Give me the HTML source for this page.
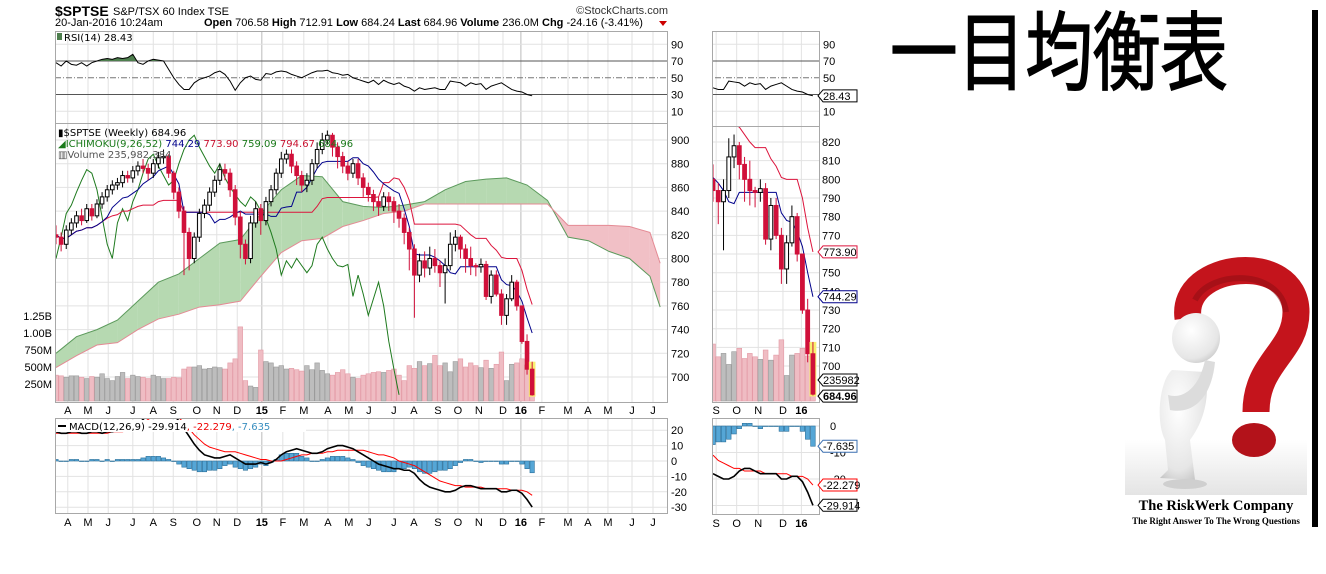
<!DOCTYPE html>
<html><head><meta charset="utf-8">
<style>
html,body{margin:0;padding:0;background:#fff;}
svg{display:block;}
text{font-family:"Liberation Sans","Noto Sans CJK JP",sans-serif;}
.lg{font-family:"DejaVu Sans",sans-serif;font-size:10px;}
.ax{font-size:11px;fill:#000;}
</style></head>
<body>
<svg id="chart" width="1326" height="574" viewBox="0 0 1326 574" xmlns="http://www.w3.org/2000/svg">
<defs>
<clipPath id="cRsiL"><rect x="55" y="31" width="612" height="92"/></clipPath>
<clipPath id="cPriceL"><rect x="55" y="124" width="612" height="278"/></clipPath>
<clipPath id="cMacdL"><rect x="55" y="418" width="612" height="95"/></clipPath>
<clipPath id="cRsiR"><rect x="712" y="31" width="107" height="95"/></clipPath>
<clipPath id="cPriceR"><rect x="712" y="126" width="107" height="276"/></clipPath>
<clipPath id="cMacdR"><rect x="712" y="418" width="107" height="96"/></clipPath>
<clipPath id="cAbove70"><rect x="0" y="0" width="1326" height="61"/></clipPath>
<linearGradient id="floor" x1="0" y1="0" x2="0" y2="1"><stop offset="0" stop-color="#fff"/><stop offset="1" stop-color="#e4e4e4"/></linearGradient>
<radialGradient id="body" cx="0.4" cy="0.35" r="0.8"><stop offset="0" stop-color="#ffffff"/><stop offset="0.7" stop-color="#e6e6e6"/><stop offset="1" stop-color="#b8b8b8"/></radialGradient>
</defs>
<rect x="0" y="0" width="1326" height="574" fill="#fff"/>

<g>
<text x="55" y="16" style="font-size:14px;font-weight:bold">$SPTSE</text>
<text x="113" y="15" style="font-size:11px">S&amp;P/TSX 60 Index  TSE</text>
<text x="668" y="14" text-anchor="end" style="font-size:11px;fill:#333">©StockCharts.com</text>
<text x="55" y="26" style="font-size:11px">20-Jan-2016 10:24am</text>
<text x="204" y="26" style="font-size:11px"><tspan font-weight="bold">Open</tspan> 706.58 <tspan font-weight="bold">High</tspan> 712.91 <tspan font-weight="bold">Low</tspan> 684.24 <tspan font-weight="bold">Last</tspan> 684.96 <tspan font-weight="bold">Volume</tspan> 236.0M <tspan font-weight="bold">Chg</tspan> -24.16 (-3.41%)</text>
<polygon points="659,21 667,21 663,26" fill="#c00"/>
</g>

<g id="gridL"></g>
<g id="gridR"></g>
<g id="rsiL" clip-path="url(#cRsiL)"></g>
<g id="priceL" clip-path="url(#cPriceL)"></g>
<g id="macdL" clip-path="url(#cMacdL)"></g>
<g id="rsiR" clip-path="url(#cRsiR)"></g>
<g id="priceR" clip-path="url(#cPriceR)"></g>
<g id="macdR" clip-path="url(#cMacdR)"></g>

<g fill="none" stroke="#a8a8a8" stroke-width="1">
<rect x="55.5" y="31.5" width="612" height="92"/>
<rect x="55.5" y="123.5" width="612" height="279"/>
<rect x="55.5" y="418.5" width="612" height="95"/>
<rect x="712.5" y="31.5" width="107" height="95"/>
<rect x="712.5" y="126.5" width="107" height="276"/>
<rect x="712.5" y="418.5" width="107" height="96"/>
</g>

<g class="lg">
<rect x="57" y="33" width="5" height="7" fill="#4e7f4e"/>
<text class="lg" x="64" y="41">RSI(14) 28.43</text>
<text class="lg" x="58" y="136">▮$SPTSE (Weekly) 684.96</text>
<text class="lg" x="58" y="147"><tspan fill="#1a7a1a">◢ICHIMOKU(9,26,52)</tspan> <tspan fill="#00008b">744.29</tspan> <tspan fill="#c8102e">773.90</tspan> <tspan fill="#1a7a1a">759.09</tspan> <tspan fill="#c8102e">794.67</tspan> <tspan fill="#1a7a1a">684.96</tspan></text>
<text class="lg" x="58" y="158" fill="#555">▥Volume 235,982,384</text>
</g>
<g id="axes"></g>
<g>
<rect x="56" y="420" width="250" height="12" fill="#fff"/>
<line x1="58" y1="426" x2="66" y2="426" stroke="#000" stroke-width="2"/>
<text class="lg" x="69" y="430">MACD(12,26,9) -29.914<tspan fill="#e00">, -22.279</tspan><tspan fill="#3a8fc0">, -7.635</tspan></text>
</g>

<text x="890" y="64" textLength="338" lengthAdjust="spacingAndGlyphs" transform="scale(1,1.3)" style="font-family:'Noto Sans CJK JP',sans-serif;font-size:66px" stroke="#000" stroke-width="1">一目均衡表</text>
<rect x="1312" y="10" width="6" height="517" fill="#000"/>

<g>
<rect x="1125" y="258" width="182" height="282" fill="#fff"/>
<rect x="1125" y="440" width="182" height="55" fill="url(#floor)"/>
<path d="M1188,318 C1180,262 1296,250 1296,312 C1296,352 1256,362 1256,412" fill="none" stroke="#c4141c" stroke-width="27"/>
<path d="M1195,300 C1210,270 1280,268 1286,312" fill="none" stroke="#8a0c12" stroke-width="6" opacity="0.5"/>
<ellipse cx="1254" cy="440" rx="22" ry="17" fill="#b3121a"/>
<ellipse cx="1196" cy="338" rx="24" ry="25" fill="url(#body)"/>
<path d="M1172,370 C1160,380 1155,420 1165,440 L1168,470 L1160,478 L1195,480 L1190,440 C1205,420 1210,395 1205,372 Z" fill="url(#body)"/>
<path d="M1168,395 C1185,400 1200,385 1205,360 L1215,362 C1212,395 1195,415 1170,410 Z" fill="#dcdcdc"/>
<ellipse cx="1185" cy="484" rx="22" ry="5" fill="#cfcfcf"/>
<text x="1216" y="510" text-anchor="middle" style="font-family:'Liberation Serif',serif;font-size:14.5px;font-weight:bold">The RiskWerk Company</text>
<text x="1216" y="524" text-anchor="middle" style="font-family:'Liberation Serif',serif;font-size:9px;font-weight:bold">The Right Answer To The Wrong Questions</text>
</g>
</svg>

<script>
const closes=[818,812,824,830, 836,832,842,836, 846,852,858,862, 864,870,868,874,878, 876,872,880,885, 886,872,856,840, 822,800,818,838,845, 856,866,875,872, 858,835,812,800,830, 842,832,848,858, 872,884,888,878, 870,862,866,880, 892,900,904,894,886, 878,872,880,868, 860,854,848,844, 852,848,840,834,822, 808,786,798,792, 800,794,788,794, 812,818,808,800,794, 793,795,768,786, 770,752,766,780,760, 730,706.58,684.96];
const firstOpen=820;
const highs=[828,822,828,834,840,842,846,846,850,856, 862,866,868,874,874,878,882,884,880,884, 890,892,888,874,860,844,826,822,842,850, 860,870,880,880,876,862,840,816,836,848, 846,852,862,876,890,892,892,882,874,872, 884,898,906,908,906,898,890,882,884,884, 872,864,858,852,856,856,852,846,838,826, 812,804,806,810,808,798,800,822,824,820, 812,810,796,800,798,790,790,774,770,786, 782,760,736,712.91];
const lows=[812,806,808,820,826,828,830,832,834,842, 848,854,858,860,864,864,870,872,866,868, 876,880,868,850,834,786,790,796,814,834, 840,852,862,866,852,828,800,795,796,826, 820,828,844,854,868,880,872,862,856,856, 862,876,888,896,886,876,872,866,868,862, 852,848,840,836,840,840,830,826,812,790, 750,780,784,786,788,776,762,790,806,800, 788,786,785,788,765,762,768,744,744,764, 756,728,702,684.24];
const volumes=[380,370,350,370, 370,350,330,360, 350,400,330,300, 360,420,330,380,360, 350,330,380,360, 330,330,350,340, 470,500,500,520,470, 480,500,490,470, 560,620,1090,300,220, 200,750,580,560, 500,520,470,480, 460,440,520,460, 560,450,400,380,420, 460,400,350,330, 380,400,420,430, 420,450,470,380,300, 520,480,580,520, 550,670,520,560, 430,580,620,500,560, 520,490,600,480, 540,720,300,540,560, 620,530,236];
const rsi=[68,64,70,66, 65,68,64,68, 70,72,73,72, 74,73,74,78,68, 66,70,72,71, 70,60,50,42, 36,36,44,48,50, 52,56,58,54, 46,35,44,50,52, 48,47,55,54, 57,58,57,54, 52,50,53,56, 58,58,59,56,55, 53,54,50,48, 46,44,47,42, 47,44,42,44,40, 38,34,38,36, 37,38,36,36, 46,45,44,40,44, 42,43,36,40, 42,44,40,36,34, 33,30,28.43];
const macd=[19,18,18,19,19,18,18,19,19,18,19,19,20,20,21,21, 24,27,30,32,33,33,32,30,26, 21,16,11,7,4, 3,2,2,3,4, 2,0,-2,-2,-2, -1,-2,-1,1,4, 6,7,8,7,6, 5,5,6,8,9, 10,10,9,8,6, 4,2,0,-2,-3, -4,-5,-5,-6,-6, -8,-12,-15,-17,-18, -19,-20,-20,-19,-17, -16,-16,-17,-18,-18, -18,-18,-20,-20,-19, -19,-21,-25,-29.914];
const signal=[18,18,18,18,18,18,18,18,18,18,18,19,19,19,20,20, 23,25,27,29,30,31,31,30,28, 25,21,17,14,11, 9,8,7,6,6, 6,5,4,3,2, 1,1,0,0,0, 1,2,3,4,4, 5,5,5,6,6, 7,7,7,7,7, 7,6,5,4,4, 3,2,0,-1,-2, -3,-5,-7,-9,-11, -13,-14,-15,-16,-16, -17,-17,-17,-17,-18, -18,-18,-18,-18,-19, -19,-19,-20,-22.279];
const cloudWeeks=[0,4,8,12,16,20,24,28,32,36,40,44,48,52,56,60,64,68,72,76,80,84,88,92,96,100,104,108,112,116,118];
const spanA=[720,734,740,748,764,780,787,800,813,816,838,858,870,869,848,844,843,845,848,858,865,867,868,862,849,818,815,806,800,785,759];
const spanB=[708,718,727,729,740,749,753,759,761,764,785,805,815,817,827,832,838,840,846,846,846,846,846,846,846,828,828,828,827,822,796];
const monthLabels=['A','M','J','J','A','S','O','N','D','15','F','M','A','M','J','J','A','S','O','N','D','16','F','M','A','M','J','J'];
const monthWeeks=[2.3,6.25,10.2,15,19,22.9,27.5,31.4,35.4,40.2,44.3,48.4,53.1,57.2,61.1,66,69.9,74.6,78.5,82.6,87.3,90.8,94.9,100,103.9,107.8,112.5,116.6];
const rsiTicks=[90,70,50,30,10];
const priceTicksL=[900,880,860,840,820,800,780,760,740,720,700];
const volTickVals=[1250,1000,750,500,250];
const volTickLabels=['1.25B','1.00B','750M','500M','250M'];
const macdTicksL=[20,10,0,-10,-20,-30];
const priceTicksR=[820,810,800,790,780,770,760,750,740,730,720,710,700];
const macdTicksR=[0,-10,-20];
const zoomStart=74;

const xL=i=>56+i*5.12;
const yP=v=>140+(900-v)*1.185;
const yRsi=v=>61+(70-v)*0.8375;
const yM=v=>461-v*1.54;
const yVol=v=>401-v*0.068;
const xR=i=>713+(i-zoomStart)*5.26;
const yPR=v=>142+(820-v)*1.867;
const yMR=v=>426-v*2.65;

const NS='http://www.w3.org/2000/svg';
function mk(tag,attrs,parent){const e=document.createElementNS(NS,tag);for(const k in attrs)e.setAttribute(k,attrs[k]);parent.appendChild(e);return e;}
const G=id=>document.getElementById(id);
const N=closes.length;
const opens=closes.map((c,i)=>i===0?firstOpen:closes[i-1]);
function mid(i,n){let h=-1e9,l=1e9;for(let j=Math.max(0,i-n+1);j<=i;j++){h=Math.max(h,highs[j]);l=Math.min(l,lows[j]);}return (h+l)/2;}
const tenkan=closes.map((c,i)=>mid(i,9));
const kijun=closes.map((c,i)=>mid(i,26));
const hist=macd.map((m,i)=>m-signal[i]);

const gl=G('gridL');
monthWeeks.forEach((w,k)=>{
  const x=xL(w);
  [[31,123],[124,402],[418,513]].forEach(r=>{
    const ln=mk('line',{x1:x,x2:x,y1:r[0],y2:r[1],stroke:(monthLabels[k]==='15'||monthLabels[k]==='16')?'#bbb':'#e2e2e2','stroke-width':1},gl);
    
    
  });
});
function hgrid(par,vals,fy,x1,x2){vals.forEach(v=>{const ln=mk('line',{x1:x1,x2:x2,y1:fy(v),y2:fy(v),stroke:'#e2e2e2'},par);
  
  });}
hgrid(gl,[90,10],yRsi,55,667);
hgrid(gl,priceTicksL,yP,55,667);
hgrid(gl,macdTicksL,yM,55,667);
const gr=G('gridR');
monthWeeks.forEach(w=>{const x=xR(w);if(x<712||x>819)return;
  [[31,126],[126,402],[418,514]].forEach(r=>{const ln=mk('line',{x1:x,x2:x,y1:r[0],y2:r[1],stroke:'#e2e2e2'},gr);
  
  });});
hgrid(gr,[90,10],yRsi,712,819);
hgrid(gr,priceTicksR,yPR,712,819);
hgrid(gr,[0,-10,-20,-30],yMR,712,819);

function rsiPanel(par,fx,i0){
  [70,30].forEach(v=>{const l=mk('line',{x1:0,x2:1326,y1:yRsi(v),y2:yRsi(v),stroke:'#555'},par);
    
    });
  const l5=mk('line',{x1:0,x2:1326,y1:yRsi(50),y2:yRsi(50),stroke:'#777','stroke-dasharray':'6,2,1,2'},par);
  
  
  let pts=[];for(let i=i0;i<N;i++)pts.push(fx(i)+','+yRsi(rsi[i]));
  const area=mk('polygon',{points:fx(i0)+','+yRsi(70)+' '+pts.join(' ')+' '+fx(N-1)+','+yRsi(70),fill:'#4e7f4e','clip-path':'url(#cAbove70)'},par);
  
  
  const pl=mk('polyline',{points:pts.join(' '),fill:'none',stroke:'#000','stroke-width':1},par);
  
  
}
rsiPanel(G('rsiL'),xL,0);
rsiPanel(G('rsiR'),xR,zoomStart);

function pricePanel(par,fx,fy,i0,bw,vw,volScale,withCloud){
  for(let i=i0;i<N;i++){
    const up=closes[i]>=opens[i];
    const v=mk('rect',{x:fx(i)-vw/2,y:401-volumes[i]*volScale,width:vw,height:volumes[i]*volScale,fill:up?'#bdbdbd':'#efbcc3',stroke:up?'#9a9a9a':'#e39aa5','stroke-width':0.6},par);
    
    
  }
  if(withCloud){
    for(let k=0;k<cloudWeeks.length-1;k++){
      const xa=fx(cloudWeeks[k]),xb=fx(cloudWeeks[k+1]);
      const a1=spanA[k],a2=spanA[k+1],b1=spanB[k],b2=spanB[k+1];
      const d1=a1-b1,d2=a2-b2;
      const segs=[];
      if(d1*d2<0){const t=d1/(d1-d2);const xm=xa+(xb-xa)*t,vm=a1+(a2-a1)*t;
        segs.push([xa,a1,b1,xm,vm,vm,d1>0]);segs.push([xm,vm,vm,xb,a2,b2,d2>0]);}
      else segs.push([xa,a1,b1,xb,a2,b2,(d1+d2)>=0]);
      segs.forEach(s=>{const p=mk('polygon',{points:s[0]+','+fy(s[1])+' '+s[3]+','+fy(s[4])+' '+s[3]+','+fy(s[5])+' '+s[0]+','+fy(s[2]),fill:s[6]?'#b6d9b1':'#f1c0c6',stroke:'none'},par);
        
        });
    }
    const pa=mk('polyline',{points:cloudWeeks.map((w,k)=>fx(w)+','+fy(spanA[k])).join(' '),fill:'none',stroke:'#5c9a5c','stroke-width':1},par);
    
    
    const pb=mk('polyline',{points:cloudWeeks.map((w,k)=>fx(w)+','+fy(spanB[k])).join(' '),fill:'none',stroke:'#e48a94','stroke-width':1},par);
    
    
    let cp=[];for(let i=26;i<N;i++)cp.push(fx(i-26)+','+fy(closes[i]));
    const ch=mk('polyline',{points:cp.join(' '),fill:'none',stroke:'#1e7a1e','stroke-width':1},par);
    
    
  }
  let kp=[],tp=[];for(let i=i0;i<N;i++){kp.push(fx(i)+','+fy(kijun[i]));tp.push(fx(i)+','+fy(tenkan[i]));}
  const kl=mk('polyline',{points:kp.join(' '),fill:'none',stroke:'#dc143c','stroke-width':1},par);
  
  
  const tl=mk('polyline',{points:tp.join(' '),fill:'none',stroke:'#00008b','stroke-width':1},par);
  
  
  for(let i=i0;i<N;i++){
    const up=closes[i]>=opens[i];const col=up?'#000':'#d0103a';const x=fx(i);
    if(i===N-1){const hl=mk('rect',{x:x-bw/2-1.5,y:fy(highs[i]),width:bw+3,height:fy(lows[i])-fy(highs[i])+1,fill:'#f8f070'},par);
      
      }
    const w=mk('line',{x1:x,x2:x,y1:fy(highs[i]),y2:fy(lows[i]),stroke:col,'stroke-width':1},par);
    
    
    const t=fy(Math.max(opens[i],closes[i])),b=fy(Math.min(opens[i],closes[i]));
    const r=mk('rect',{x:x-bw/2,y:t,width:bw,height:Math.max(1,b-t),fill:up?'#fff':'#d0103a',stroke:col,'stroke-width':1},par);
    
    
  }
}
pricePanel(G('priceL'),xL,yP,0,3.6,4.6,0.068,true);
pricePanel(G('priceR'),xR,yPR,zoomStart,3.8,4.8,0.085,false);

function macdPanel(par,fx,fy,i0,bw){
  for(let i=i0;i<N;i++){const y0=fy(0),y1=fy(hist[i]);
    const r=mk('rect',{x:fx(i)-bw/2,y:Math.min(y0,y1),width:bw,height:Math.max(0.5,Math.abs(y1-y0)),fill:'#55a6d6',stroke:'#2a6f9a','stroke-width':0.6},par);
    
    }
  let mp=[],sp=[];for(let i=i0;i<N;i++){mp.push(fx(i)+','+fy(macd[i]));sp.push(fx(i)+','+fy(signal[i]));}
  const s=mk('polyline',{points:sp.join(' '),fill:'none',stroke:'#f00','stroke-width':1},par);
  
  
  const m=mk('polyline',{points:mp.join(' '),fill:'none',stroke:'#000','stroke-width':1.6},par);
  
  
}
macdPanel(G('macdL'),xL,yM,0,4.4);
macdPanel(G('macdR'),xR,yMR,zoomStart,4.6);

const ax=G('axes');
function lab(x,y,t,anchor,bold,name){const e=mk('text',{x:x,y:y,'text-anchor':anchor||'start',class:'ax'},ax);
  if(bold)e.setAttribute('font-weight','bold');
  e.textContent=t;
  
  return e;}
rsiTicks.forEach(v=>{lab(671,yRsi(v)+4,String(v),'start',false,'rsi-tick-label');lab(823,yRsi(v)+4,String(v),'start',false,'rsi-tick-label-right');});
priceTicksL.forEach(v=>lab(671,yP(v)+4,String(v),'start',false,'price-tick-label'));
volTickVals.forEach((v,k)=>lab(52,yVol(v)+4,volTickLabels[k],'end',false,'volume-tick-label'));
macdTicksL.forEach(v=>lab(671,yM(v)+4,String(v),'start',false,'macd-tick-label'));
priceTicksR.forEach(v=>lab(822,yPR(v)+4,String(v),'start',false,'price-tick-label-right'));
macdTicksR.forEach(v=>lab(830,yMR(v)+4,String(v),'start',false,'macd-tick-label-right'));
monthLabels.forEach((t,k)=>{const b=(t==='15'||t==='16');
  lab(xL(monthWeeks[k]),414,t,'middle',b,'x-axis-month-label');
  lab(xL(monthWeeks[k]),526,t,'middle',b,'macd-x-axis-month-label');
  const xr=xR(monthWeeks[k]);
  if(xr>712&&xr<819){lab(xr,414,t,'middle',b,'right-x-axis-month-label');lab(xr,527,t,'middle',b,'right-macd-x-axis-month-label');}
});
function tag(y,t,col,bold,name){
  const p=mk('polygon',{points:'818,'+y+' 823,'+(y-6)+' 857,'+(y-6)+' 857,'+(y+6)+' 823,'+(y+6),fill:'#fff',stroke:col,'stroke-width':1},ax);
  
  
  lab(823,y+4,t,'start',bold,name);
}
tag(yRsi(rsi[N-1]),'28.43','#000',false,'rsi-value-tag');
tag(yPR(kijun[N-1]),'773.90','#dc143c',false,'kijun-value-tag');
tag(yPR(tenkan[N-1]),'744.29','#00008b',false,'tenkan-value-tag');
tag(380,'235982','#000',false,'volume-value-tag');
tag(yPR(closes[N-1])+2,'684.96','#000',true,'last-price-tag');
tag(yMR(hist[N-1]),'-7.635','#3a6fb0',false,'histogram-value-tag');
tag(yMR(signal[N-1]),'-22.279','#f00',false,'signal-value-tag');
tag(yMR(macd[N-1]),'-29.914','#000',false,'macd-value-tag');
</script>
</body></html>
